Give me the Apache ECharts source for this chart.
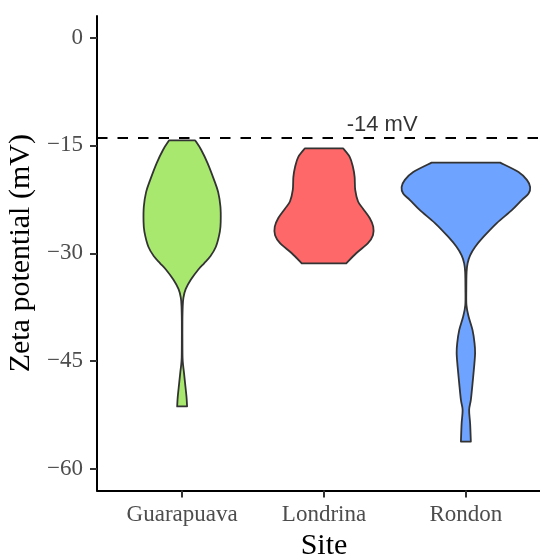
<!DOCTYPE html>
<html>
<head>
<meta charset="utf-8">
<script src="https://cdn.jsdelivr.net/npm/echarts@6/dist/echarts.min.js"></script>
<style>
  html, body { margin: 0; padding: 0; background: #fff; }
  #chart { width: 540px; height: 556px; }
</style>
</head>
<body>
<div id="chart"></div>
<script>
// Sites on the x axis
const sites = ['Guarapuava', 'Londrina', 'Rondon'];
// y-axis ticks (mV)
const yTicks = [-60, -45, -30, -15, 0];
// Reference threshold drawn as a dashed line
const threshold = -14;

// Violin outlines: [zeta potential (mV), half width in category units]
const guarapuavaProfile = [
  [-14.3, 0.092], [-15.6, 0.134], [-17.5, 0.180], [-19.8, 0.225], [-21.5, 0.254],
  [-23.5, 0.270], [-25.5, 0.272], [-27.0, 0.266], [-29.1, 0.238], [-30.5, 0.196],
  [-31.4, 0.155], [-32.3, 0.113], [-33.7, 0.061], [-35.0, 0.025], [-36.2, 0.009],
  [-37.5, 0.004], [-39.5, 0.002], [-42.0, 0.002], [-44.5, 0.003], [-45.6, 0.007],
  [-46.6, 0.013], [-48.1, 0.021], [-50.0, 0.031], [-51.3, 0.035]
];
const londrinaProfile = [
  [-15.4, 0.134], [-16.6, 0.181], [-18.0, 0.204], [-19.4, 0.216], [-21.2, 0.220],
  [-22.8, 0.240], [-23.8, 0.275], [-25.1, 0.322], [-26.3, 0.347], [-27.5, 0.345],
  [-28.6, 0.310], [-30.0, 0.227], [-31.4, 0.157]
];
const rondonProfile = [
  [-17.4, 0.242], [-18.7, 0.371], [-19.8, 0.430], [-20.8, 0.453], [-21.7, 0.442],
  [-22.6, 0.394], [-24.0, 0.324], [-25.8, 0.218], [-27.7, 0.125], [-29.1, 0.066],
  [-30.3, 0.030], [-31.4, 0.012], [-32.6, 0.005], [-35.0, 0.003], [-37.2, 0.004],
  [-38.8, 0.019], [-40.7, 0.047], [-42.5, 0.061], [-43.9, 0.065], [-45.8, 0.058],
  [-48.1, 0.047], [-50.4, 0.035], [-51.8, 0.023], [-53.7, 0.030], [-56.2, 0.035]
];
const profiles = [guarapuavaProfile, londrinaProfile, rondonProfile];
const fills = ['#a8e86e', '#ff6868', '#6ea3ff'];

const SERIF = "'Liberation Serif', 'Times New Roman', serif";
const SANS = "'Liberation Sans', Arial, sans-serif";

// Smooth curve through a list of pixel points (Catmull-Rom as cubic Beziers)
function curveThrough(pts) {
  let d = '';
  for (let i = 0; i < pts.length - 1; i++) {
    const p0 = pts[Math.max(i - 1, 0)];
    const p1 = pts[i];
    const p2 = pts[i + 1];
    const p3 = pts[Math.min(i + 2, pts.length - 1)];
    const c1 = [p1[0] + (p2[0] - p0[0]) / 6, p1[1] + (p2[1] - p0[1]) / 6];
    const c2 = [p2[0] - (p3[0] - p1[0]) / 6, p2[1] - (p3[1] - p1[1]) / 6];
    d += ' C' + c1[0] + ' ' + c1[1] + ' ' + c2[0] + ' ' + c2[1] + ' ' + p2[0] + ' ' + p2[1];
  }
  return d;
}

function renderViolin(params, api) {
  const idx = params.dataIndex;
  const profile = profiles[idx];
  const cx = idx + 1;
  const right = profile.map(p => api.coord([cx + p[1], p[0]]));
  const left = profile.map(p => api.coord([cx - p[1], p[0]])).reverse();
  let d = 'M' + right[0][0] + ' ' + right[0][1];
  d += curveThrough(right);
  d += ' L' + left[0][0] + ' ' + left[0][1];
  d += curveThrough(left);
  d += ' Z';
  return {
    type: 'path',
    shape: { pathData: d },
    style: { fill: fills[idx], stroke: '#333333', lineWidth: 1.8, lineJoin: 'round' }
  };
}

// Negative tick values are written with a true minus sign
const minusFormat = v => (v < 0 ? '\u2212' + Math.abs(v) : String(v));

const chart = echarts.init(document.getElementById('chart'), null, { renderer: 'canvas' });
chart.setOption({
  animation: false,
  backgroundColor: '#ffffff',
  grid: { left: 97, right: -11, top: 16, bottom: 65.5, outerBoundsMode: 'none' },
  xAxis: {
    type: 'value',
    min: 0.4,
    max: 3.6,
    splitLine: { show: false },
    axisLine: { show: true, onZero: false, lineStyle: { color: '#000', width: 2 } },
    axisTick: { show: true, customValues: [1, 2, 3], length: 7, lineStyle: { color: '#333', width: 2 } },
    axisLabel: {
      customValues: [1, 2, 3],
      formatter: v => sites[Math.round(v) - 1],
      fontFamily: SERIF, fontSize: 23, color: '#4d4d4d', margin: 13
    },
    name: 'Site',
    nameLocation: 'middle',
    nameGap: 36,
    nameTextStyle: { fontFamily: SERIF, fontSize: 30, color: '#000' }
  },
  yAxis: {
    type: 'value',
    min: -63,
    max: 3,
    splitLine: { show: false },
    axisLine: { show: true, onZero: false, lineStyle: { color: '#000', width: 2 } },
    axisTick: { show: true, customValues: yTicks, length: 7, lineStyle: { color: '#333', width: 2 } },
    axisLabel: {
      customValues: yTicks,
      formatter: minusFormat,
      fontFamily: SERIF, fontSize: 23, color: '#4d4d4d', margin: 14
    },
    name: 'Zeta potential (mV)',
    nameLocation: 'middle',
    nameGap: 56,
    nameRotate: 90,
    nameTextStyle: { fontFamily: SERIF, fontSize: 30, color: '#000' }
  },
  series: [
    {
      type: 'custom',
      renderItem: renderViolin,
      data: sites.map((s, i) => [i + 1]),
      encode: { x: 0 },
      silent: true,
      z: 3
    },
    {
      type: 'scatter',
      symbolSize: 0,
      data: [[2.41, -12.2]],
      silent: true,
      z: 4,
      label: {
        show: true,
        position: 'inside',
        formatter: threshold + ' mV',
        fontFamily: SANS,
        fontSize: 22,
        color: '#000'
      },
      markLine: {
        silent: true,
        symbol: 'none',
        label: { show: false },
        lineStyle: { color: '#000', width: 2, type: [10.5, 10] },
        data: [{ yAxis: threshold }]
      }
    }
  ]
});
</script>
</body>
</html>
